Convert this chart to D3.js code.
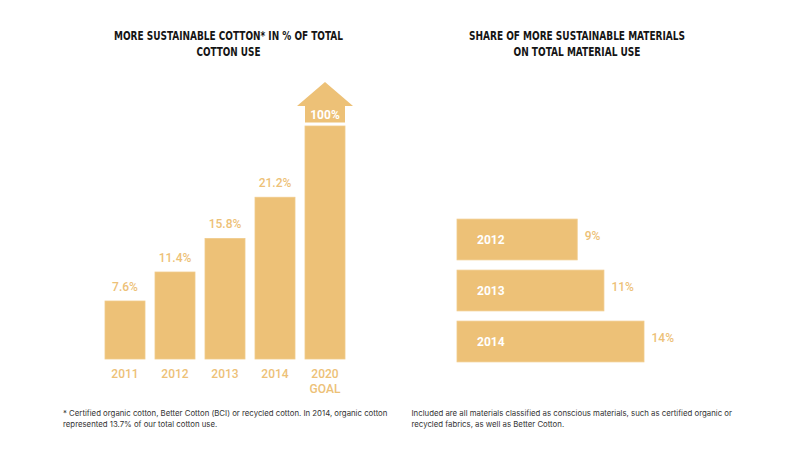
<!DOCTYPE html>
<html>
<head>
<meta charset="utf-8">
<script src="https://cdn.jsdelivr.net/npm/d3@7"></script>
<style>
  html, body { margin: 0; padding: 0; background: #fff; }
  svg { display: block; }
</style>
</head>
<body>
<svg id="chart" width="800" height="462"></svg>
<script>
// ---- data ----
const cottonYears = ["2011", "2012", "2013", "2014", "2020"];
const cottonSubLabels = ["", "", "", "", "GOAL"];
const cottonValues = [7.6, 11.4, 15.8, 21.2, 100];
const cottonLabels = ["7.6%", "11.4%", "15.8%", "21.2%", "100%"];

const materialYears = ["2012", "2013", "2014"];
const materialValues = [9, 11, 14];
const materialLabels = ["9%", "11%", "14%"];

const leftTitle = ["MORE SUSTAINABLE COTTON* IN % OF TOTAL", "COTTON USE"];
const rightTitle = ["SHARE OF MORE SUSTAINABLE MATERIALS", "ON TOTAL MATERIAL USE"];
const leftNote = ["* Certified organic cotton, Better Cotton (BCI) or recycled cotton. In 2014, organic cotton",
                  "represented 13.7% of our total cotton use."];
const rightNote = ["Included are all materials classified as conscious materials, such as certified organic or",
                   "recycled fabrics, as well as Better Cotton."];

// ---- style ----
const barColor = "#EDC177";
const barStroke = "#F1CB8A";
const labelColor = "#EDC177";
const titleFont = "'DejaVu Sans Condensed', 'DejaVu Sans', sans-serif";
const labelFont = "Roboto, 'Liberation Sans', Arial, sans-serif";
const noteFont = "Inter, 'Open Sans', sans-serif";

const svg = d3.select("#chart");

// ---- titles ----
function title(lines, cx, widths) {
  lines.forEach((t, i) => {
    svg.append("text")
      .attr("x", cx).attr("y", 40 + i * 16.3)
      .attr("text-anchor", "middle")
      .attr("font-family", titleFont)
      .attr("font-weight", "bold")
      .attr("font-size", 11.5)
      .attr("fill", "#151515")
      .attr("textLength", widths[i])
      .attr("lengthAdjust", "spacingAndGlyphs")
      .text(t);
  });
}
title(leftTitle, 228.5, [229, 64]);
title(rightTitle, 577, [216, 127]);

// ---- left: vertical bars ----
const x = d3.scaleBand().domain(cottonYears).range([100, 350]).paddingInner(0.2).paddingOuter(0.1);
// broken axis: linear up to 25%, compressed to the goal arrow tip at 100%
const y = d3.scaleLinear().domain([0, 25, 100]).range([359, 168.25, 82]);

const arrowHead = 24, arrowShaft = 16.5, arrowGap = 3.5;
const isGoal = (d, i) => i === cottonYears.length - 1;

const gL = svg.append("g");
gL.selectAll("rect.bar")
  .data(cottonValues)
  .join("rect")
  .attr("class", "bar")
  .attr("x", (d, i) => x(cottonYears[i]))
  .attr("width", x.bandwidth())
  .attr("y", (d, i) => isGoal(d, i) ? y(d) + arrowHead + arrowShaft + arrowGap : y(d))
  .attr("height", (d, i) => y(0) - (isGoal(d, i) ? y(d) + arrowHead + arrowShaft + arrowGap : y(d)))
  .attr("fill", barColor)
  .attr("stroke", barStroke)
  .attr("stroke-width", 0.8);

// goal arrow
const gi = cottonYears.length - 1;
const gx0 = x(cottonYears[gi]), gx1 = gx0 + x.bandwidth(), gcx = gx0 + x.bandwidth() / 2;
const tipY = y(cottonValues[gi]);
const headW = 28;
gL.append("path")
  .attr("d", d3.line()([
    [gcx, tipY], [gcx + headW, tipY + arrowHead], [gx1, tipY + arrowHead],
    [gx1, tipY + arrowHead + arrowShaft], [gx0, tipY + arrowHead + arrowShaft],
    [gx0, tipY + arrowHead], [gcx - headW, tipY + arrowHead]
  ]) + "Z")
  .attr("fill", barColor);

// value labels
gL.selectAll("text.val")
  .data(cottonValues)
  .join("text")
  .attr("class", "val")
  .attr("x", (d, i) => x(cottonYears[i]) + x.bandwidth() / 2)
  .attr("y", (d, i) => isGoal(d, i) ? tipY + arrowHead + arrowShaft / 2 + 4.5 : y(d) - 10.5)
  .attr("text-anchor", "middle")
  .attr("font-family", labelFont)
  .attr("font-size", 12)
  .attr("font-weight", (d, i) => isGoal(d, i) ? "bold" : 500)
  .attr("fill", (d, i) => isGoal(d, i) ? "#fff" : labelColor)
  .text((d, i) => cottonLabels[i]);

// category labels
gL.selectAll("text.cat")
  .data(cottonYears)
  .join("text")
  .attr("class", "cat")
  .attr("x", d => x(d) + x.bandwidth() / 2)
  .attr("y", 378)
  .attr("text-anchor", "middle")
  .attr("font-family", labelFont)
  .attr("font-size", 12)
  .attr("font-weight", 500)
  .attr("fill", labelColor)
  .text(d => d);
gL.selectAll("text.sub")
  .data(cottonSubLabels)
  .join("text")
  .attr("class", "sub")
  .attr("x", (d, i) => x(cottonYears[i]) + x.bandwidth() / 2)
  .attr("y", 392.5)
  .attr("text-anchor", "middle")
  .attr("font-family", labelFont)
  .attr("font-size", 12)
  .attr("font-weight", 500)
  .attr("fill", labelColor)
  .text(d => d);

// ---- right: horizontal bars ----
const hx = d3.scaleLinear().domain([0, 14]).range([457, 644]);
const hy = d3.scaleBand().domain(materialYears).range([214, 367]).paddingInner(0.2).paddingOuter(0.1);

const gR = svg.append("g");
gR.selectAll("rect")
  .data(materialValues)
  .join("rect")
  .attr("x", hx(0))
  .attr("y", (d, i) => hy(materialYears[i]))
  .attr("width", d => hx(d) - hx(0))
  .attr("height", hy.bandwidth())
  .attr("fill", barColor)
  .attr("stroke", barStroke)
  .attr("stroke-width", 0.8);

gR.selectAll("text.yr")
  .data(materialYears)
  .join("text")
  .attr("class", "yr")
  .attr("x", hx(0) + 20)
  .attr("y", d => hy(d) + hy.bandwidth() / 2 + 4.5)
  .attr("font-family", labelFont)
  .attr("font-weight", "bold")
  .attr("font-size", 12)
  .attr("fill", "#fff")
  .text(d => d);

gR.selectAll("text.pct")
  .data(materialValues)
  .join("text")
  .attr("class", "pct")
  .attr("x", d => hx(d) + 7.5)
  .attr("y", (d, i) => hy(materialYears[i]) + hy.bandwidth() / 2)
  .attr("font-family", labelFont)
  .attr("font-size", 12)
  .attr("font-weight", 500)
  .attr("fill", labelColor)
  .text((d, i) => materialLabels[i]);

// ---- footnotes ----
function note(lines, x0) {
  lines.forEach((t, i) => {
    svg.append("text")
      .attr("x", x0).attr("y", 416 + i * 10.7)
      .attr("font-family", noteFont)
      .attr("font-size", 7.8)
      .attr("fill", "#333")
      .text(t);
  });
}
note(leftNote, 63);
note(rightNote, 411.5);
</script>
</body>
</html>
